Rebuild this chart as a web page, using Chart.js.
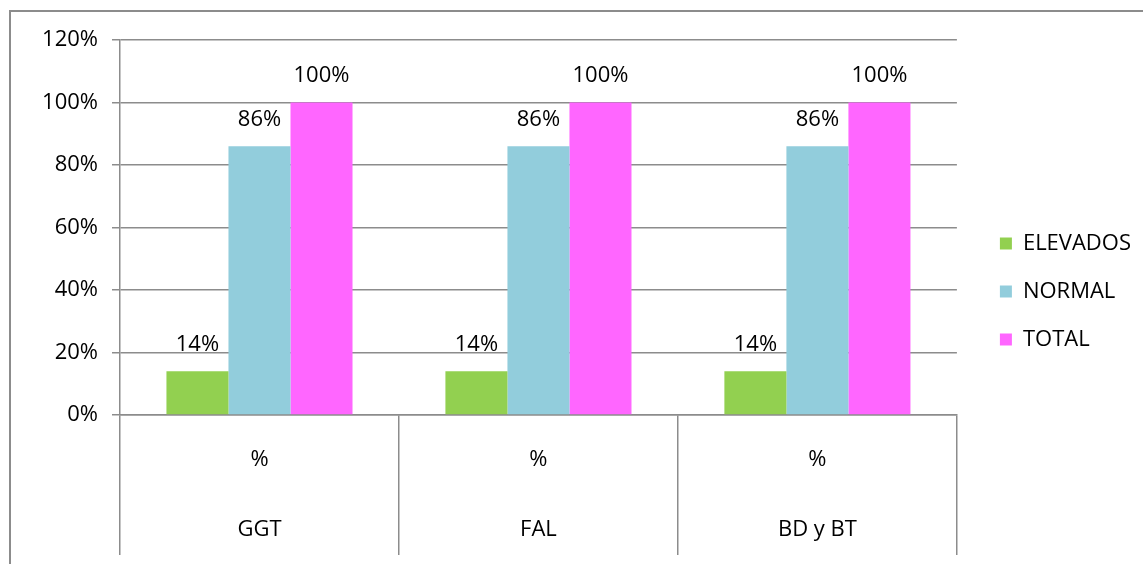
<!DOCTYPE html>
<html>
<head>
<meta charset="utf-8">
<script src="https://cdn.jsdelivr.net/npm/chart.js@4.4.1/dist/chart.umd.min.js"></script>
<style>
  body { margin: 0; background: #fff; overflow: hidden; }
  #frame { position: absolute; left: 9px; top: 10px; width: 1200px; height: 600px; border: 2px solid #8c8c8c; }
  #cv { position: absolute; left: 0; top: 0; }
</style>
</head>
<body>
<div id="frame"></div>
<canvas id="cv" width="1143" height="564"></canvas>
<script>
// data
var categories = [['%', 'GGT'], ['%', 'FAL'], ['%', 'BD y BT']];
var seriesNames = ['ELEVADOS', 'NORMAL', 'TOTAL'];
var elevados = [14, 14, 14];
var normal = [86, 86, 86];
var total = [100, 100, 100];
var yTicks = [0, 20, 40, 60, 80, 100, 120];
var colors = ['#92D050', '#92CDDC', '#FF66FF'];

var FONT = '"Open Sans", "Liberation Sans", sans-serif';
var FS = 22;
Chart.defaults.font.family = FONT;
Chart.defaults.color = '#000';

// value labels above each bar
var valueLabels = {
  id: 'valueLabels',
  afterDatasetsDraw: function(chart) {
    var ctx = chart.ctx;
    ctx.save();
    ctx.font = FS + 'px ' + FONT;
    ctx.fillStyle = '#000';
    ctx.textAlign = 'center';
    ctx.textBaseline = 'middle';
    chart.data.datasets.forEach(function(ds, i) {
      var meta = chart.getDatasetMeta(i);
      meta.data.forEach(function(bar, j) {
        ctx.fillText(ds.data[j] + '%', bar.x, bar.y - 27);
      });
    });
    ctx.restore();
  }
};

// nudge the legend a bit away from the plot, like the original
var legendNudge = {
  id: 'legendNudge',
  afterLayout: function(chart) {
    var lg = chart.legend;
    if (!lg) return;
    lg.left += 17; lg.right += 17;
    lg.top -= 6; lg.bottom -= 6;
  }
};

var data = {
  labels: categories,
  datasets: [
    { label: seriesNames[0], data: elevados, backgroundColor: colors[0] },
    { label: seriesNames[1], data: normal, backgroundColor: colors[1] },
    { label: seriesNames[2], data: total, backgroundColor: colors[2] }
  ]
};

var options = {
  responsive: false,
  animation: false,
  layout: { padding: { left: 0, top: 40, bottom: 9, right: 19 } },
  datasets: { bar: { categoryPercentage: 0.667, barPercentage: 1.0 } },
  plugins: {
    legend: {
      position: 'right',
      labels: { boxWidth: 12, boxHeight: 12, padding: 26, font: { size: FS } }
    },
    tooltip: { enabled: false }
  },
  scales: {
    x: {
      grid: { offset: true, drawOnChartArea: false, tickLength: 140, color: '#8c8c8c', lineWidth: 1.5 },
      border: { color: '#8c8c8c', width: 1.5 },
      ticks: { padding: -130, font: { size: FS, lineHeight: 70 / FS }, maxRotation: 0 },
      afterFit: function(scale) { scale.height = 140; }
    },
    y: {
      min: 0,
      max: 120,
      afterBuildTicks: function(scale) { scale.ticks = yTicks.map(function(v) { return { value: v }; }); },
      grid: { color: '#8c8c8c', lineWidth: 1.5, tickLength: 8 },
      border: { color: '#8c8c8c', width: 1.5 },
      ticks: { padding: 14, font: { size: FS }, callback: function(v) { return v + '%'; } },
      afterFit: function(scale) { scale.width = 120; }
    }
  }
};

var chart = new Chart(document.getElementById('cv'), {
  type: 'bar',
  data: data,
  options: options,
  plugins: [valueLabels, legendNudge]
});
</script>
</body>
</html>
